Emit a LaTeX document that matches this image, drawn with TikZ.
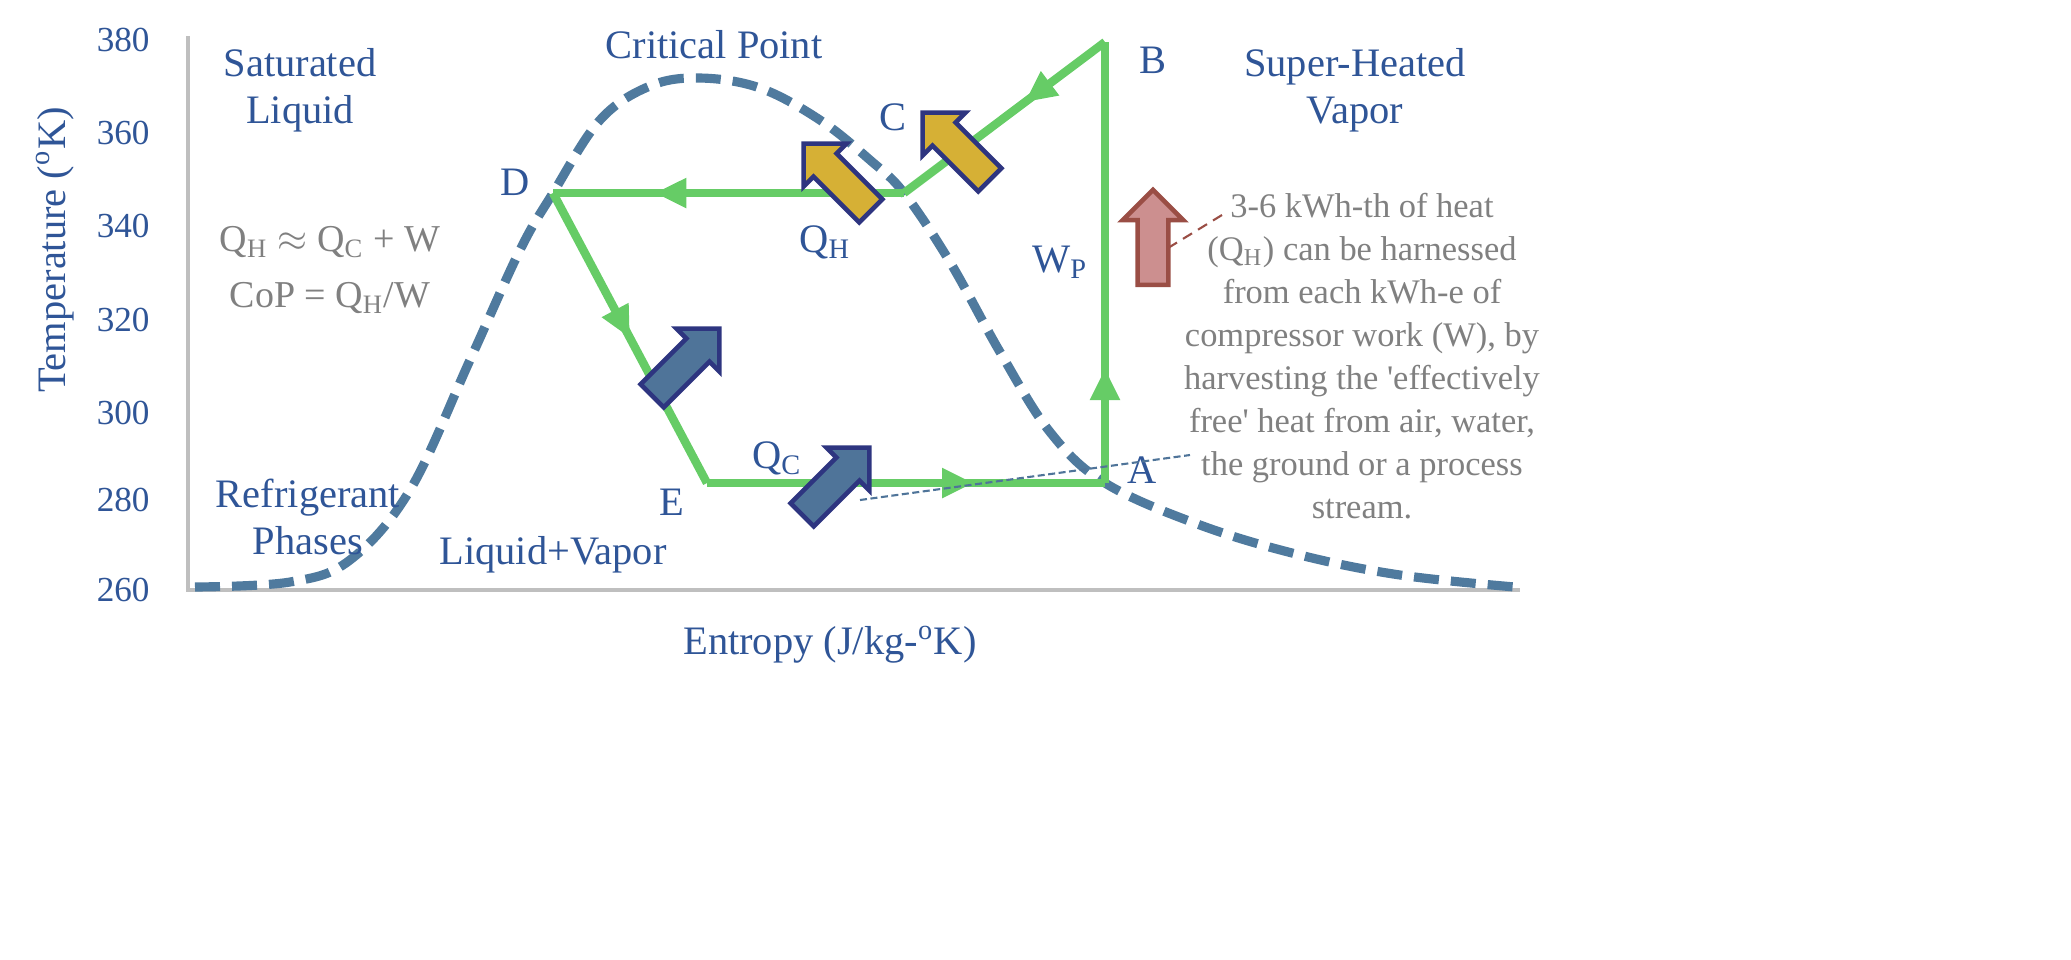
\documentclass[tikz,border=0pt]{standalone}
\usepackage{fontspec}
\setmainfont{Liberation Serif}
\usetikzlibrary{positioning,shapes.arrows,decorations.markings,arrows.meta}

\definecolor{txtblue}{HTML}{2F5597}
\definecolor{curveblue}{HTML}{4F7A9E}
\definecolor{cyclegreen}{HTML}{66CC66}
\definecolor{heatgold}{HTML}{D6B035}
\definecolor{navy}{HTML}{2E3580}
\definecolor{coldblue}{HTML}{4F7499}
\definecolor{workpink}{HTML}{CC8F8F}
\definecolor{workbrown}{HTML}{9A4E45}

\tikzset{
	lbl/.style={text=txtblue,font=\fontsize{11.5}{13.5}\selectfont,align=center},
	tick/.style={text=txtblue,font=\fontsize{10}{12}\selectfont,anchor=east},
	note/.style={text=gray,font=\fontsize{9.8}{12.2}\selectfont,align=center},
	formula/.style={text=gray,font=\fontsize{10.8}{13}\selectfont},
	midarrow/.style={postaction={decorate},decoration={markings,
		mark=at position #1 with {\arrow{Triangle[length=9pt,width=8pt]}}}},
	heatarrow/.style={single arrow,draw=navy,line width=1.3pt,minimum height=0.95cm,
		minimum width=0.6cm,single arrow head extend=0.14cm,inner sep=0.14cm},
}

\begin{document}
\begin{tikzpicture}[x=0.01cm,y=-0.01cm]
	\useasboundingbox (0,0) rectangle (2071,959);
	
	%axes
	\draw[gray!50,line width=1pt] (188,36) -- (188,590) -- (1520,590);
	\foreach \t/\y in {380/40,360/133,340/226,320/320,300/413,280/500,260/590}
		\node[tick] at (162,\y) {\t};
	\node[lbl,rotate=90] (tlabel) at (55,250) {Temperature (\textsuperscript{o}K)};
	\node[lbl] (slabel) at (830,645) {Entropy (J/kg-\textsuperscript{o}K)};
	
	%dome
	\draw[curveblue,line width=2.6pt,dash pattern=on 0.25cm off 0.12cm] plot[smooth,tension=0.6] coordinates {
		(195,587) (290,582) (350,560) (410,490) (470,360) (520,250) (553,193) (600,120)
		(650,86) (700,78) (760,88) (820,120) (870,160) (904,193) (950,262) (1000,352)
		(1050,432) (1105,483) (1200,525) (1300,555) (1400,575) (1515,587)};
	
	%cycle points
	\coordinate (B) at (1105,42);
	\coordinate (C) at (904,193);
	\coordinate (D) at (553,193);
	\coordinate (E) at (707,483);
	\coordinate (A) at (1105,483);
	
	\begin{scope}[cyclegreen,line width=2.4pt,fill=cyclegreen]
	\draw[midarrow=0.4] (B) -- (C);
	\draw[midarrow=0.71] (C) -- (D);
	\draw[midarrow=0.5] (D) -- (E);
	\draw[midarrow=0.67] (E) -- (A);
	\draw[midarrow=0.26] (A) -- (B);
	\end{scope}
	
	%heat arrows
	\node[heatarrow,fill=heatgold,rotate=135] (qh1) at (843,183) {};
	\node[heatarrow,fill=heatgold,rotate=135] (qh2) at (962,152) {};
	\node[heatarrow,fill=coldblue,rotate=45] (qc1) at (680,368) {};
	\node[heatarrow,fill=coldblue,rotate=45] (qc2) at (830,487) {};
	\node[single arrow,draw=workbrown,fill=workpink,line width=1.3pt,rotate=90,
		minimum height=0.95cm,minimum width=0.6cm,single arrow head extend=0.15cm,
		inner sep=0.13cm] (wp) at (1153,245) {};
	
	%labels
	\node[lbl] (crit) at (714,45) {Critical Point};
	\node[lbl] (satliq) at (300,90) {Saturated\\Liquid};
	\node[lbl] (supvap) at (1355,90) {Super-Heated\\Vapor};
	\node[lbl] (refph) at (308,517) {Refrigerant\\Phases};
	\node[lbl] (livap) at (553,555) {Liquid+Vapor};
	\node[lbl] (lB) at (1153,60) {B};
	\node[lbl] (lC) at (893,117) {C};
	\node[lbl] (lD) at (515,182) {D};
	\node[lbl] (lE) at (672,502) {E};
	\node[lbl] (lA) at (1142,470) {A};
	\node[lbl] (lqh) at (825,242) {Q\textsubscript{H}};
	\node[lbl] (lqc) at (777,458) {Q\textsubscript{C}};
	\node[lbl] (lwp) at (1060,262) {W\textsubscript{P}};
	\node[formula] (bal) at (330,242) {Q\textsubscript{H} $\approx$ Q\textsubscript{C} + W};
	\node[formula] (cop) at (330,298) {CoP = Q\textsubscript{H}/W};
	\node[note] (expl) at (1362,356) {3-6 kWh-th of heat\\(Q\textsubscript{H}) can be harnessed\\from each kWh-e of\\compressor work (W), by\\harvesting the \textquotesingle effectively\\free\textquotesingle{} heat from air, water,\\the ground or a process\\stream.};
	
	%leaders
	\coordinate (wpstart) at (1168,248);
	\coordinate (wpend) at (1222,215);
	\coordinate (qcstart) at (860,500);
	\coordinate (qcend) at (1190,455);
	\draw[workbrown,densely dashed,line width=0.6pt] (wpstart) -- (wpend);
	\draw[coldblue,dash pattern=on 2pt off 1pt,line width=0.6pt] (qcstart) -- (qcend);
\end{tikzpicture}
\end{document}
